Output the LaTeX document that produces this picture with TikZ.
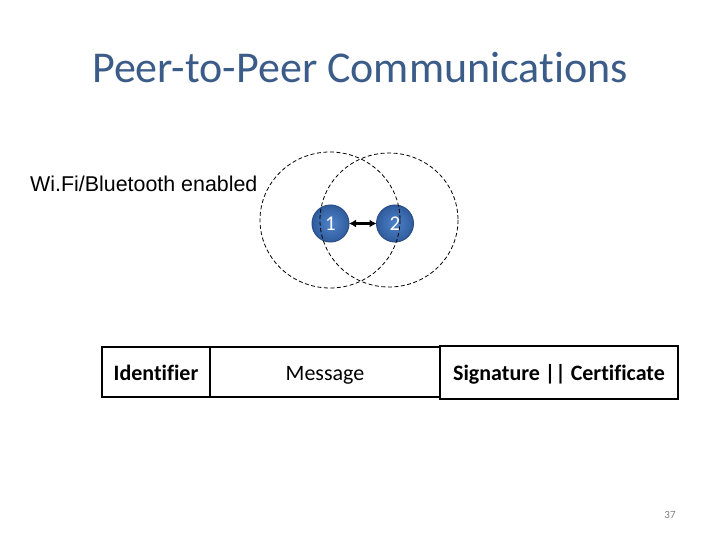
\documentclass[tikz,border=0pt]{standalone}
\usepackage{fontspec}
\setmainfont[Ligatures=NoCommon]{Carlito}
\newfontfamily\arialfont{Liberation Sans}
\usetikzlibrary{arrows.meta}
\definecolor{titleblue}{HTML}{3B5C88}
\definecolor{nodelight}{HTML}{4F82C8}
\definecolor{nodedark}{HTML}{2F5C9E}
\definecolor{nodeedge}{HTML}{2A4E85}
\tikzset{
  peer/.style={circle, minimum size=37pt, inner sep=0pt, draw=nodeedge, line width=1pt,
    inner color=nodelight, outer color=nodedark, text=white, font=\fontsize{21}{24}\selectfont},
  radiorange/.style={draw=black, dash pattern=on 4pt off 2.5pt, line width=0.8pt},
  field/.style={draw=black, line width=1.6pt, minimum height=50pt, inner sep=0pt,
    text height=18pt, text depth=2pt, font=\fontsize{22}{26}\selectfont}
}
\begin{document}
\begin{tikzpicture}[x=1pt,y=-1pt]
\useasboundingbox (0,0) rectangle (720,540);
\node[text=titleblue, font=\fontsize{44}{50}\selectfont] (title) at (360,68) {Peer-to-Peer Communications};
\node[anchor=west, inner sep=0pt, font=\arialfont\fontsize{21.4}{25}\selectfont] (wifi) at (30,184) {Wi.Fi/Bluetooth enabled};
\node[peer] (n1) at (330.5,223.5) {1};
\node[peer] (n2) at (395,223.5) {2};
\draw[{Latex[length=7pt,width=8pt]}-{Latex[length=7pt,width=8pt]}, line width=2.4pt, shorten <=-0.5pt, shorten >=-0.5pt] (n1) -- (n2);
\draw[radiorange] (330,220) ellipse [x radius=70, y radius=68];
\draw[radiorange] (389,220) ellipse [x radius=69, y radius=67];
\node[field, minimum width=108pt, font=\bfseries\fontsize{22}{26}\selectfont] (id) at (156,372) {Identifier};
\node[field, minimum width=230pt] (msg) at (325,372) {Message};
\node[field, minimum width=238pt, minimum height=53pt, font=\bfseries\fontsize{22}{26}\selectfont] (sig) at (559,372.5) {Signature || Certificate};
\node[text=gray, font=\fontsize{11}{13}\selectfont] (pg) at (670,515) {37};
\end{tikzpicture}
\end{document}
